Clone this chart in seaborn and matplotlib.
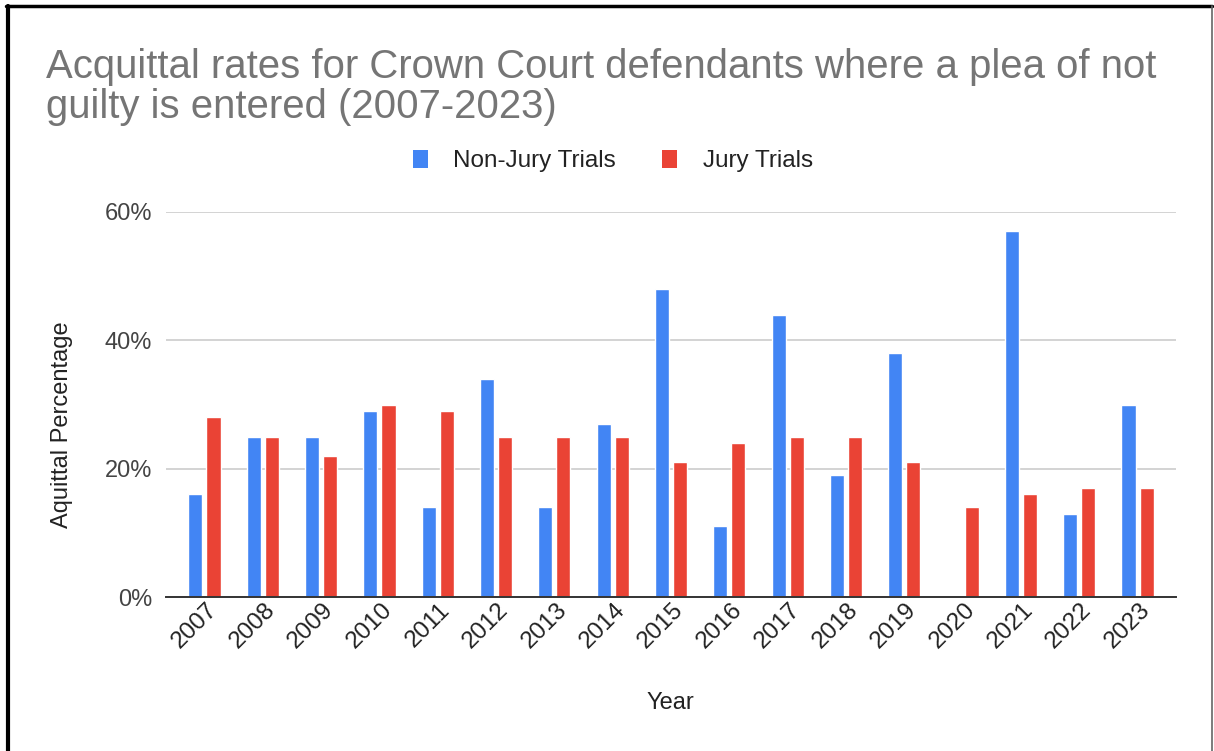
import matplotlib
matplotlib.use("Agg")
import matplotlib.pyplot as plt
import matplotlib.transforms as mtransforms
from matplotlib.lines import Line2D
from matplotlib.patches import Patch
from matplotlib.ticker import PercentFormatter
import pandas as pd
import seaborn as sns

years = [str(y) for y in range(2007, 2024)]
non_jury = [16, 25, 25, 29, 14, 34, 14, 27, 48, 11, 44, 19, 38, 0, 57, 13, 30]
jury = [28, 25, 22, 30, 29, 25, 25, 25, 21, 24, 25, 25, 21, 14, 16, 17, 17]
series_names = ["Non-Jury Trials", "Jury Trials"]
colors = ["#4285F4", "#EA4335"]

df = pd.DataFrame({
    "Year": years * 2,
    "rate": non_jury + jury,
    "series": [series_names[0]] * len(years) + [series_names[1]] * len(years),
})

sns.set_style("white")
plt.rcParams["font.family"] = ["Liberation Sans", "DejaVu Sans"]

fig = plt.figure(figsize=(12.14, 7.51), dpi=100)
ax = fig.add_axes([166 / 1214, 1 - 597 / 751, 1010 / 1214, 385 / 751])

sns.barplot(data=df, x="Year", y="rate", hue="series", palette=colors,
            width=0.62, gap=0.22, saturation=1, ax=ax, legend=False)

ax.set_xlim(-0.66, 16.66)
ax.set_ylim(0, 60)
ax.set_yticks([0, 20, 40, 60])
ax.yaxis.set_major_formatter(PercentFormatter(xmax=100, decimals=0))
ax.grid(axis="y", color="#cccccc", linewidth=1.2)
ax.set_axisbelow(True)
for side in ["top", "right", "left"]:
    ax.spines[side].set_visible(False)
ax.spines["bottom"].set_color("#333333")
ax.spines["bottom"].set_linewidth(1.4)
ax.spines["bottom"].set_zorder(5)

ax.tick_params(axis="y", length=0, pad=10, labelsize=17, labelcolor="#444444")
ax.tick_params(axis="x", length=0, pad=7, labelsize=17.5, labelcolor="#222222")
shift = mtransforms.ScaledTranslation(0.09, 0, fig.dpi_scale_trans)
for lab in ax.get_xticklabels():
    lab.set_rotation(45)
    lab.set_ha("right")
    lab.set_va("center")
    lab.set_rotation_mode("anchor")
    lab.set_transform(lab.get_transform() + shift)

ax.set_xlabel("Year", fontsize=17, color="#222222", va="center")
ax.xaxis.set_label_coords(0.499, -0.275)
ax.set_ylabel("Aquittal Percentage", fontsize=17, color="#222222", va="center")
ax.yaxis.set_label_coords(-0.103, 0.447)

handles = [Patch(facecolor=c, edgecolor="none") for c in colors]
fig.legend(handles, series_names, loc="center", bbox_to_anchor=(613 / 1214, 1 - 161 / 751),
           ncol=2, frameon=False, fontsize=17.5, handlelength=0.62, handleheight=0.8,
           handletextpad=1.05, columnspacing=1.9, labelcolor="#222222")

fig.text(46 / 1214, 1 - 48 / 751,
         "Acquittal rates for Crown Court defendants where a plea of not\nguilty is entered (2007-2023)",
         ha="left", va="top", fontsize=28.9, color="#757575", linespacing=1.07)

# frame around the picture
fig.add_artist(Line2D([0.005, 0.9985], [1 - 6 / 751, 1 - 6 / 751], transform=fig.transFigure,
                      color="black", linewidth=2.5))
fig.add_artist(Line2D([7.5 / 1214, 7.5 / 1214], [0, 1 - 6 / 751], transform=fig.transFigure,
                      color="black", linewidth=3))
fig.add_artist(Line2D([1212 / 1214, 1212 / 1214], [0, 1 - 6 / 751], transform=fig.transFigure,
                      color="#666666", linewidth=1.2))

fig.savefig("out.png", dpi=100)
plt.close(fig)
